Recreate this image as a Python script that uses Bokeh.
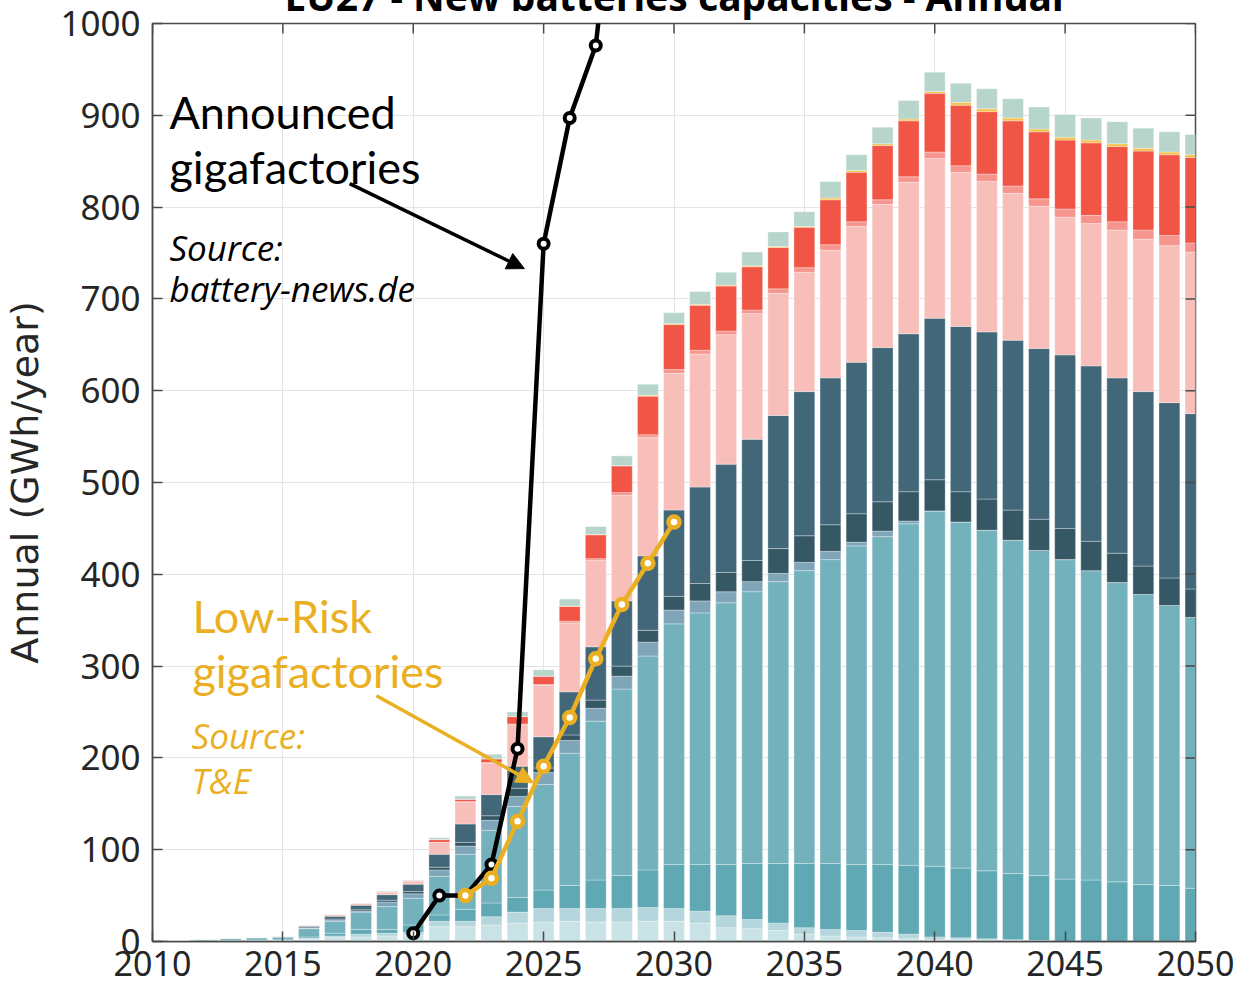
import math
from bokeh.plotting import figure
from bokeh.models import Range1d, Label, Arrow, NormalHead, FixedTicker, ColumnDataSource
from bokeh.embed import file_html
from bokeh.resources import INLINE

# ---------------- data ----------------
years = list(range(2011, 2051))

very_light = [0.2, 0.4, 0.6, 0.8, 1.0, 2.5, 4, 5, 6, 7,
              16, 16, 18, 20, 21, 22, 21, 21, 22, 22,
              20, 15, 14, 12, 8, 6, 5, 4, 3, 2,
              2, 1, 1, 0.5, 0, 0, 0, 0, 0, 0]
light = [0, 0.1, 0.2, 0.2, 0.3, 1.0, 2, 3, 3, 3,
         6, 6, 9, 12, 15, 14, 15, 15, 15, 14,
         13, 13, 10, 8, 7, 7, 7, 6, 5, 3,
         2, 2, 1, 0.5, 0, 0, 0, 0, 0, 0]
medium_teal = [0.1, 0.2, 0.3, 0.4, 0.5, 1.5, 3, 5, 4, 8,
               7, 13, 15, 16, 20, 25, 31, 36, 41, 48,
               51, 56, 61, 65, 70, 72, 72, 74, 75, 77,
               76, 74, 72, 71, 68, 67, 65, 62, 61, 58]
teal = [0.7, 1.4, 2.0, 2.5, 3.0, 9, 13, 19, 25, 29,
        42, 60, 79, 99, 115, 144, 173, 203, 233, 262,
        274, 285, 296, 307, 319, 331, 347, 357, 372, 387,
        377, 371, 363, 354, 348, 337, 326, 316, 305, 295]
blue_grey = [0.1, 0.2, 0.2, 0.3, 0.3, 0.6, 1.5, 1, 5, 5,
             7, 9, 11, 11, 13, 14, 14, 14, 15, 15,
             13, 12, 11, 9, 9, 9, 4, 6, 3, 0,
             0, 0, 0, 0, 0, 0, 0, 0, 0, 0]
dark_slate = [0, 0.1, 0.1, 0.1, 0.2, 0.4, 1, 1.5, 2, 2.5,
              3, 4, 5, 9, 5, 6, 9, 11, 13, 15,
              19, 21, 23, 27, 29, 29, 31, 32, 32, 34,
              33, 34, 33, 34, 34, 32, 32, 31, 30, 31]
slate = [0.1, 0.2, 0.3, 0.4, 0.5, 1.5, 3, 5, 6, 8,
         14, 20, 23, 24, 34, 47, 58, 71, 81, 94,
         105, 118, 132, 145, 157, 160, 165, 168, 172, 176,
         180, 182, 185, 186, 189, 191, 191, 190, 191, 191]
pink = [0.1, 0.1, 0.1, 0.2, 0.2, 1.5, 1.8, 2.5, 3, 3,
        13, 24, 34, 45, 56, 75, 94, 115, 129, 149,
        145, 141, 137, 133, 130, 139, 148, 156, 165, 174,
        168, 164, 160, 155, 150, 155, 161, 166, 171, 176]
salmon = [0, 0, 0, 0, 0, 0, 0, 0, 0, 0,
          0, 0.5, 1, 1, 1, 2, 2, 3, 3, 4,
          4, 4, 4, 5, 5, 6, 5, 5, 6, 7,
          7, 8, 8, 8, 9, 9, 9, 10, 11, 10]
red = [0, 0, 0, 0, 0, 0, 0.3, 0, 0.5, 1,
       3, 2.5, 4, 8, 9, 16, 26, 29, 42, 49,
       49, 49, 47, 45, 44, 49, 54, 59, 61, 64,
       66, 68, 71, 73, 75, 79, 82, 86, 88, 93]
yellow = [0, 0, 0, 0, 0, 0, 0, 0, 0, 0,
          0, 0, 0, 0, 0, 0.5, 0.5, 0.5, 1, 1,
          1, 1, 1, 1, 1, 2, 2, 2, 2, 2,
          3, 3, 3, 3, 3, 3, 3, 3, 3, 3]
pale_green = [0, 0, 0, 0, 0, 0, 0, 0, 0.5, 0.5,
              2, 3.5, 5, 5, 7, 7.5, 8.5, 10.5, 12, 12,
              14, 14, 15, 16, 16, 18, 17, 18, 20, 21,
              21, 22, 21, 24, 25, 24, 24, 22, 22, 22]

announced_years = [2020, 2021, 2022, 2023, 2024, 2025, 2026, 2027, 2028]
announced_vals = [9, 50, 50, 84, 210, 760, 897, 976, 1230]

lowrisk_years = [2022, 2023, 2024, 2025, 2026, 2027, 2028, 2029, 2030]
lowrisk_vals = [50, 69, 131, 191, 244, 308, 367, 412, 457]

x_ticks = [2010, 2015, 2020, 2025, 2030, 2035, 2040, 2045, 2050]
y_ticks = [0, 100, 200, 300, 400, 500, 600, 700, 800, 900, 1000]

layer_names = ["very_light", "light", "medium_teal", "teal", "blue_grey", "dark_slate",
               "slate", "pink", "salmon", "red", "yellow", "pale_green"]
layer_colors = ["#c9e2e6", "#b5d6dc", "#5fa8b4", "#73b1bc", "#7fa5b8", "#365865",
                "#416779", "#f8bfba", "#f5958e", "#f05545", "#f7c04a", "#b7d5ca"]

src = ColumnDataSource(dict(year=years, very_light=very_light, light=light,
                            medium_teal=medium_teal, teal=teal, blue_grey=blue_grey,
                            dark_slate=dark_slate, slate=slate, pink=pink, salmon=salmon,
                            red=red, yellow=yellow, pale_green=pale_green))

GOLD = "#eaaf22"
TXT = "#262626"
AX = "#4a4a4a"

SHIFT = 40  # canvas starts this many px above the page so the title is cut off

# ---------------- figure ----------------
p = figure(width=1242, height=987 + SHIFT, x_range=Range1d(2010, 2050), y_range=Range1d(0, 1000),
           output_backend="svg", toolbar_location=None,
           min_border_left=151, min_border_right=47, min_border_top=23 + SHIFT,
           min_border_bottom=46, margin=(-SHIFT, 0, 0, 0),
           title="EU27 - New batteries capacities - Annual")
p.title.text_font = "Noto Sans"
p.title.text_font_size = "39px"
p.title.text_font_style = "bold"
p.title.text_color = "black"
p.title.align = "center"
p.title.standoff = 3

p.background_fill_color = "white"
p.border_fill_color = "white"
p.outline_line_color = AX
p.outline_line_width = 1.5

p.xgrid.ticker = FixedTicker(ticks=x_ticks)
p.ygrid.ticker = FixedTicker(ticks=y_ticks)
p.xgrid.grid_line_color = "#e4e4e4"
p.ygrid.grid_line_color = "#e4e4e4"

for ax in (p.xaxis[0], p.yaxis[0]):
    ax.axis_line_color = AX
    ax.axis_line_width = 1.5
    ax.major_tick_line_color = AX
    ax.major_tick_line_width = 1.5
    ax.major_tick_in = 10
    ax.major_tick_out = 0
    ax.minor_tick_line_color = None
    ax.major_label_text_font = "Noto Sans"
    ax.major_label_text_color = TXT

p.yaxis.ticker = FixedTicker(ticks=y_ticks)
p.yaxis.major_label_text_font_size = "35px"
p.yaxis.major_label_standoff = 12
p.yaxis.axis_label = "Annual (GWh/year)"
p.yaxis.axis_label_text_font = "DejaVu Sans"
p.yaxis.axis_label_text_font_size = "38px"
p.yaxis.axis_label_text_font_style = "normal"
p.yaxis.axis_label_text_color = TXT
p.yaxis.axis_label_standoff = 10

p.xaxis.ticker = FixedTicker(ticks=x_ticks)
p.xaxis.major_label_text_font_size = "34px"
p.xaxis.major_label_standoff = 9

# ---------------- bars ----------------
p.vbar_stack(layer_names, x="year", width=0.8, source=src,
             fill_color=layer_colors, line_color="white", line_alpha=0.45, line_width=0.7)

# inward tick marks on the top and right edges of the box
tick_len_y = 10 * 1000 / 918.0
tick_len_x = 10 * 40 / 1044.0
p.segment(x0=x_ticks, y0=[1000] * len(x_ticks), x1=x_ticks, y1=[1000 - tick_len_y] * len(x_ticks),
          line_color=AX, line_width=1.5)
p.segment(x0=[2050] * len(y_ticks), y0=y_ticks, x1=[2050 - tick_len_x] * len(y_ticks), y1=y_ticks,
          line_color=AX, line_width=1.5)

# ---------------- lines ----------------
p.line(announced_years, announced_vals, line_color="black", line_width=4.5)
p.scatter(announced_years, announced_vals, size=10, fill_color="white",
          line_color="black", line_width=4)
p.line(lowrisk_years, lowrisk_vals, line_color=GOLD, line_width=4.5)
p.scatter(lowrisk_years, lowrisk_vals, size=11, fill_color="white",
          line_color=GOLD, line_width=4.5)

# ---------------- arrows ----------------
p.add_layout(Arrow(end=NormalHead(size=17, fill_color="black", line_color="black"),
                   x_start=2017.56, y_start=825.6, x_end=2024.26, y_end=733.0,
                   line_color="black", line_width=3.5))
p.add_layout(Arrow(end=NormalHead(size=17, fill_color=GOLD, line_color=GOLD),
                   x_start=2018.59, y_start=267.6, x_end=2024.61, y_end=172.8,
                   line_color=GOLD, line_width=3.5))

# ---------------- texts ----------------
def lab(x, y, text, size, color, style="normal", font="Lato"):
    p.add_layout(Label(x=x, y=y, text=text, text_font=font, text_font_size=size,
                       text_color=color, text_font_style=style, text_align="left",
                       text_baseline="alphabetic"))

lab(2010.65, 903.3, "Announced", "45px", "black")
lab(2010.65, 843.4, "gigafactories", "45px", "black")
lab(2010.65, 756.2, "Source:", "35px", "black", style="italic", font="Open Sans")
lab(2010.65, 711.2, "battery-news.de", "35px", "black", style="italic", font="Open Sans")

lab(2011.53, 355.0, "Low-Risk", "45px", GOLD)
lab(2011.53, 295.1, "gigafactories", "45px", GOLD)
lab(2011.5, 224.0, "Source:", "35px", GOLD, style="italic", font="Open Sans")
lab(2011.5, 175.0, "T&E", "35px", GOLD, style="italic", font="Open Sans")

open("out.html", "w").write(file_html(p, INLINE))
